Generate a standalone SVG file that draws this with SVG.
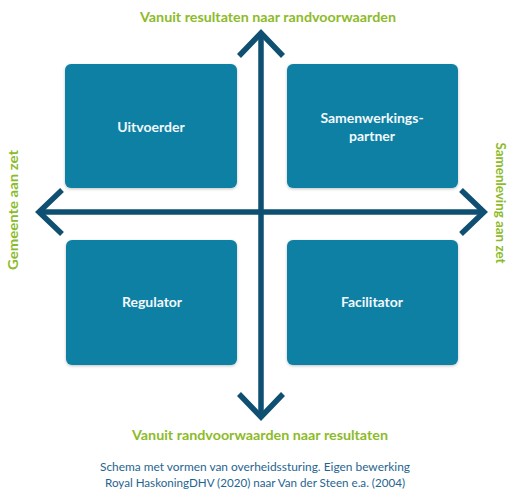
<svg xmlns="http://www.w3.org/2000/svg" width="511" height="493" viewBox="0 0 511 493">
<defs>
<filter id="sh" x="-10%" y="-10%" width="120%" height="120%">
<feGaussianBlur in="SourceAlpha" stdDeviation="1.5"/>
<feOffset dx="0" dy="0.5" result="b"/>
<feComponentTransfer><feFuncA type="linear" slope="0.25"/></feComponentTransfer>
<feMerge><feMergeNode/><feMergeNode in="SourceGraphic"/></feMerge>
</filter>
</defs>
<style>
.box{fill:#0a80a4;filter:url(#sh);}
.lbl{font-family:Lato,"Open Sans","Liberation Sans",sans-serif;font-weight:bold;font-size:14px;fill:#f2f8fb;text-anchor:middle;}
.axis{font-family:Lato,"Open Sans","Liberation Sans",sans-serif;font-weight:bold;font-size:14px;fill:#8cbb2a;text-anchor:middle;}
.cap{font-family:Lato,"Open Sans","Liberation Sans",sans-serif;font-size:12px;fill:#1f6590;text-anchor:middle;}
.ax{stroke:#0e4f72;stroke-width:5.5;fill:none;stroke-linecap:butt;stroke-linejoin:miter;}
</style>
<rect width="511" height="493" fill="#ffffff"/>
<g id="uitvoerder">
<rect class="box" x="65" y="64" width="172" height="124" rx="6"/>
<text class="lbl" x="151" y="132">Uitvoerder</text>
</g>
<g id="samenwerkingspartner">
<rect class="box" x="287" y="64" width="171" height="124" rx="6"/>
<text class="lbl" x="372" y="123">Samenwerkings-</text>
<text class="lbl" x="372" y="141">partner</text>
</g>
<g id="regulator">
<rect class="box" x="66" y="240" width="171" height="125" rx="6"/>
<text class="lbl" x="152" y="307">Regulator</text>
</g>
<g id="facilitator">
<rect class="box" x="287" y="240" width="171" height="125" rx="6"/>
<text class="lbl" x="372" y="307">Facilitator</text>
</g>
<g id="connectors">
<line class="ax" x1="261" y1="34" x2="261" y2="417"/>
<line class="ax" x1="39" y1="212" x2="484" y2="212"/>
<polyline class="ax" points="239,56 261,33 283,56"/>
<polyline class="ax" points="239,394 261,417 283,394"/>
<polyline class="ax" points="62,190 39,212 62,234"/>
<polyline class="ax" points="461,190 484,212 461,234"/>
</g>
<g id="axis-labels">
<text class="axis" x="268" y="22" textLength="256" lengthAdjust="spacingAndGlyphs">Vanuit resultaten naar randvoorwaarden</text>
<text class="axis" x="260" y="440" textLength="256" lengthAdjust="spacingAndGlyphs">Vanuit randvoorwaarden naar resultaten</text>
<text class="axis" transform="translate(18,210) rotate(-90)" textLength="120" lengthAdjust="spacingAndGlyphs">Gemeente aan zet</text>
<text class="axis" transform="translate(496,203) rotate(90)" textLength="121" lengthAdjust="spacingAndGlyphs">Samenleving aan zet</text>
</g>
<g id="caption">
<text class="cap" x="255" y="471" textLength="310" lengthAdjust="spacingAndGlyphs">Schema met vormen van overheidssturing. Eigen bewerking</text>
<text class="cap" x="255" y="487" textLength="300" lengthAdjust="spacingAndGlyphs">Royal HaskoningDHV (2020) naar Van der Steen e.a. (2004)</text>
</g>
</svg>
